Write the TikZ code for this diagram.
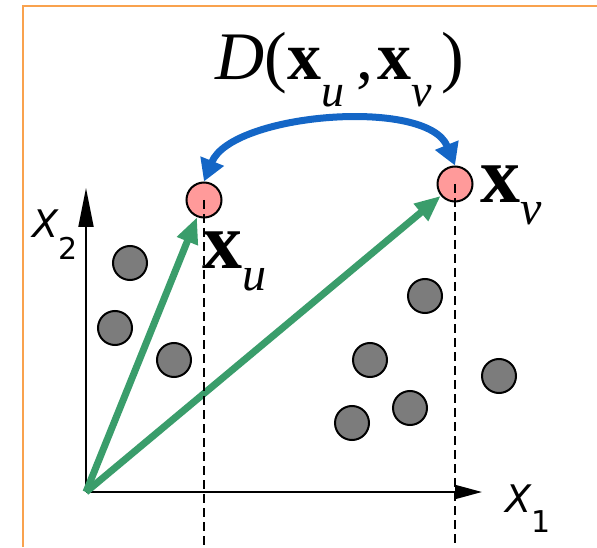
\documentclass[tikz,border=0pt]{standalone}
\usepackage{fontspec}
\setmainfont{Liberation Serif}
\newfontfamily\axisfont{DejaVu Sans}
\usetikzlibrary{arrows.meta}
\definecolor{framec}{HTML}{F9A24E}
\definecolor{vecgreen}{HTML}{3A9D6B}
\definecolor{arcblue}{HTML}{1466C6}
\definecolor{ptpink}{HTML}{FF9A9A}
\definecolor{ptgray}{HTML}{7C7C7C}
\newcommand{\lowsub}[3]{\raisebox{-#1pt}{\fontsize{#2}{#2}\selectfont #3}}
\tikzset{sample/.style={circle,draw=black,line width=2pt,fill=ptgray,minimum size=34pt,inner sep=0pt},
  query/.style={circle,draw=black,line width=2pt,fill=ptpink,minimum size=35pt,inner sep=0pt},
  axis/.style={line width=2pt},
  vec/.style={line width=7pt,draw=vecgreen,-{Triangle[length=26pt,width=21pt]}},
  proj/.style={line width=2pt,dash pattern=on 9pt off 5pt},
  dist/.style={line width=7pt,draw=arcblue,{Triangle[length=22pt,width=24pt]}-{Triangle[length=22pt,width=24pt]}},
  lab/.style={anchor=base west,inner sep=0pt}}

\begin{document}
\begin{tikzpicture}[x=1pt,y=1pt]
\useasboundingbox (0,0) rectangle (597,547);
% Slide frame.
\draw[framec,line width=2pt] (23,0) -- (23,541) -- (597,541);

% Sample points.
\foreach \x/\y [count=\i] in {130/284,115/219,174/187,425/251,370/187,410/139,352/124,499/171}{
  \node[sample] (p\i) at (\x,\y) {};
}

% Axes.
\coordinate (o) at (86,55);
\coordinate (x1end) at (482,55);
\coordinate (x2end) at (86,359);
\draw[axis,-{Triangle[length=27pt,width=14pt]}] (o) -- (x1end);
\draw[axis,-{Triangle[length=39pt,width=15pt]}] (o) -- (x2end);
\node[lab] (x1lab) at (505,35) {\axisfont\fontsize{38}{38}\selectfont\itshape X\lowsub{20}{30}{\upshape 1}};
\node[lab] (x2lab) at (32,309) {\axisfont\fontsize{38}{38}\selectfont\itshape X\lowsub{22}{30}{\upshape 2}};

% The two query points and their vectors.
\node[query] (xu) at (204,347) {};
\node[query] (xv) at (455,363) {};
\draw[vec] (o) -- (xu);
\draw[vec] (o) -- (xv);

% Projections onto X1.
\coordinate (ufoot) at (204,0);
\coordinate (vfoot) at (455,0);
\draw[proj] (xu.center) -- (ufoot);
\draw[proj] (xv.center) -- (vfoot);

% Distance between them.
\draw[dist] (xu.north) to[out=68,in=112,looseness=.75] (xv.north);
\node[anchor=base,inner sep=0pt] (dlab) at (340,467)
  {\fontsize{68}{68}\selectfont\textit{D}(\textbf{x}\lowsub{27}{46}{\itshape u}\hspace{12pt},\hspace{4pt}\textbf{x}\lowsub{27}{46}{\itshape v}\hspace{10pt})};
\node[lab] (ulab) at (202,279) {\fontsize{80}{80}\selectfont\textbf{x}\lowsub{22}{48}{\itshape u}};
\node[lab] (vlab) at (480,344) {\fontsize{80}{80}\selectfont\textbf{x}\lowsub{22}{48}{\itshape v}};
\end{tikzpicture}
\end{document}
